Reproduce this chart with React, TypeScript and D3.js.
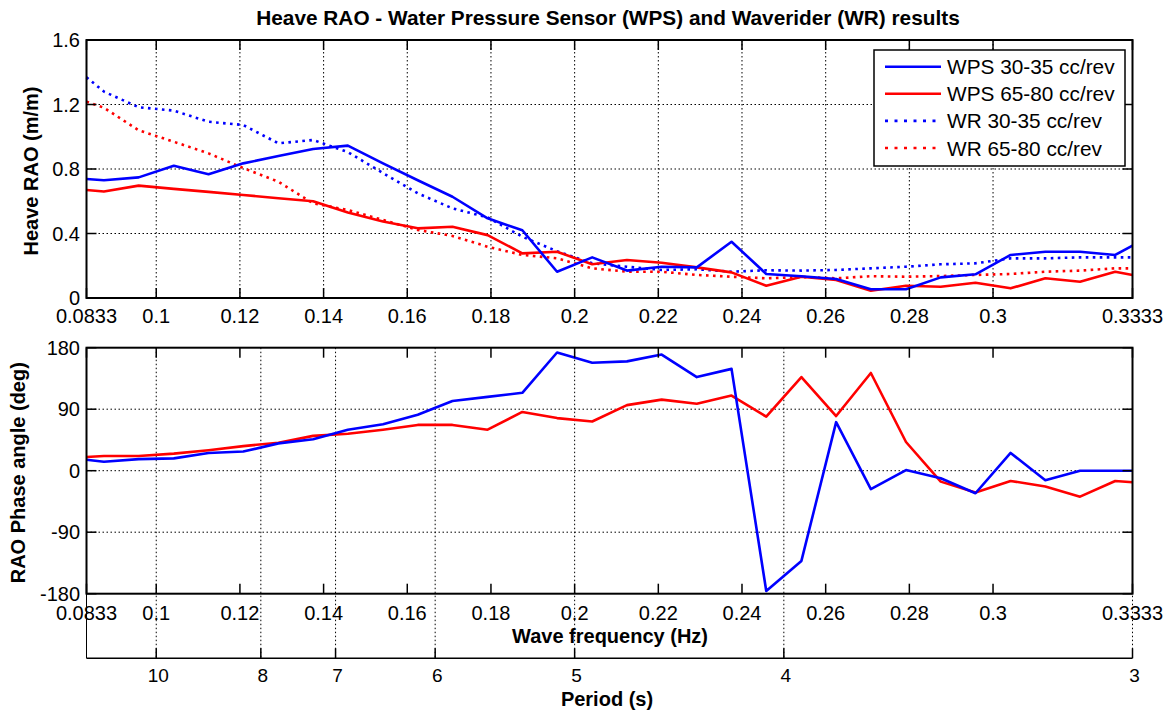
import React, { useEffect, useRef } from 'react';
import { select, scaleLinear, line, Selection } from 'd3';

// wave frequency (Hz) of every measured point
const freq = [
  0.083333, 0.0875, 0.0958, 0.1042, 0.1125, 0.1208, 0.1292, 0.1375, 0.1458, 0.1542, 0.1625,
  0.1708, 0.1792, 0.1875, 0.1958, 0.2042, 0.2125, 0.2208, 0.2292, 0.2375, 0.2458, 0.2542,
  0.2625, 0.2708, 0.2792, 0.2875, 0.2958, 0.3042, 0.3125, 0.3208, 0.3292, 0.333333,
];

// heave RAO (m/m)
const raoWps3035 = [
  0.738, 0.73, 0.748, 0.82, 0.767, 0.835, 0.88, 0.924, 0.945, 0.835, 0.73,
  0.628, 0.494, 0.42, 0.163, 0.252, 0.17, 0.194, 0.19, 0.349, 0.149, 0.135,
  0.118, 0.054, 0.054, 0.128, 0.147, 0.267, 0.287, 0.287, 0.267, 0.325,
];
const raoWps6580 = [
  0.67, 0.66, 0.697, 0.677, 0.658, 0.639, 0.619, 0.6, 0.53, 0.474, 0.432,
  0.442, 0.39, 0.277, 0.287, 0.209, 0.236, 0.219, 0.19, 0.159, 0.076, 0.132,
  0.112, 0.045, 0.076, 0.07, 0.095, 0.06, 0.122, 0.101, 0.163, 0.143,
];
const raoWr3035 = [
  1.369, 1.28, 1.183, 1.162, 1.093, 1.073, 0.959, 0.98, 0.905, 0.775, 0.649,
  0.556, 0.5, 0.38, 0.29, 0.215, 0.194, 0.174, 0.178, 0.163, 0.172, 0.17,
  0.174, 0.184, 0.194, 0.209, 0.215, 0.246, 0.246, 0.252, 0.252, 0.252,
];
const raoWr6580 = [
  1.217, 1.18, 1.04, 0.969, 0.897, 0.806, 0.721, 0.587, 0.546, 0.484, 0.422,
  0.385, 0.318, 0.267, 0.246, 0.184, 0.163, 0.163, 0.143, 0.132, 0.122, 0.13,
  0.122, 0.135, 0.132, 0.136, 0.143, 0.149, 0.163, 0.17, 0.184, 0.184,
];

// RAO phase angle (deg)
const phaseWps3035 = [
  16, 13, 17, 18, 26, 28, 40, 46, 60, 68, 82,
  102, 108, 114, 173, 158, 160, 170, 137, 149, -176, -132,
  71, -27, 1, -11, -33, 26, -14, 0, 0, 0,
];
const phaseWps6580 = [
  20, 21.5, 21.5, 25, 30, 36, 41, 51, 54, 60, 67,
  67, 60, 86, 77, 72, 96, 104, 98, 110, 79, 137,
  80, 143, 42, -16, -32, -15, -23, -38, -15, -17,
];

const freqTicks = [0.083333, 0.1, 0.12, 0.14, 0.16, 0.18, 0.2, 0.22, 0.24, 0.26, 0.28, 0.3, 0.333333];
const freqTickLabels = ['0.0833', '0.1', '0.12', '0.14', '0.16', '0.18', '0.2', '0.22', '0.24', '0.26', '0.28', '0.3', '0.3333'];
const raoTicks = [0, 0.4, 0.8, 1.2, 1.6];
const raoTickLabels = ['0', '0.4', '0.8', '1.2', '1.6'];
const phaseTicks = [-180, -90, 0, 90, 180];
const periodTicks = [10, 8, 7, 6, 5, 4, 3];

const seriesNames = ['WPS 30-35 cc/rev', 'WPS 65-80 cc/rev', 'WR 30-35 cc/rev', 'WR 65-80 cc/rev'];

const WIDTH = 1176;
const HEIGHT = 715;
const LEFT = 86.5;
const RIGHT = 1132.5;
const TOP_PANEL = { TOP: 40, BOTTOM: 298 };
const BOT_PANEL = { TOP: 347.7, BOTTOM: 593.7 };
const PERIOD_BOTTOM = 658.3;
const FONT = '"Liberation Sans", Arial, Helvetica, sans-serif';
const BLUE = '#0000ff';
const RED = '#ff0000';
const GRID_DASH = '1.5,2.5';
const DOT_DASH = '2.6,4.4';
const TICK = 10;
const TICK_FONT = 20;

type G = Selection<SVGGElement, unknown, null, undefined>;

function hLine(g: G, x1: number, x2: number, y: number, w: number, dash?: string): void {
  const l = g.append('line').attr('x1', x1).attr('x2', x2).attr('y1', y).attr('y2', y)
    .attr('stroke', '#000').attr('stroke-width', w);
  if (dash) l.attr('stroke-dasharray', dash);
}

function vLine(g: G, x: number, y1: number, y2: number, w: number, dash?: string): void {
  const l = g.append('line').attr('x1', x).attr('x2', x).attr('y1', y1).attr('y2', y2)
    .attr('stroke', '#000').attr('stroke-width', w);
  if (dash) l.attr('stroke-dasharray', dash);
}

function label(g: G, x: number, y: number, text: string, size: number, anchor = 'middle', bold = false): void {
  g.append('text').attr('x', x).attr('y', y).attr('text-anchor', anchor)
    .attr('font-family', FONT).attr('font-size', size)
    .attr('font-weight', bold ? 'bold' : 'normal').attr('fill', '#000').text(text);
}

export default function App(): JSX.Element {
  const svgRef = useRef<SVGSVGElement>(null);

  useEffect(() => {
    const svg = select(svgRef.current);
    svg.selectAll('*').remove();
    const g = svg.append('g') as unknown as G;

    const x = scaleLinear().domain([freqTicks[0], freqTicks[freqTicks.length - 1]]).range([LEFT, RIGHT]);
    const yRao = scaleLinear().domain([0, 1.6]).range([TOP_PANEL.BOTTOM, TOP_PANEL.TOP]);
    const yPhase = scaleLinear().domain([-180, 180]).range([BOT_PANEL.BOTTOM, BOT_PANEL.TOP]);

    // background
    g.append('rect').attr('width', WIDTH).attr('height', HEIGHT).attr('fill', '#fff');

    // title
    label(g, 608, 25, 'Heave RAO - Water Pressure Sensor (WPS) and Waverider (WR) results', 20.8, 'middle', true);

    // ---------- top panel ----------
    freqTicks.slice(1, -1).forEach((f) => vLine(g, x(f), TOP_PANEL.TOP, TOP_PANEL.BOTTOM, 1, GRID_DASH));
    raoTicks.slice(1, -1).forEach((v) => hLine(g, LEFT, RIGHT, yRao(v), 1, GRID_DASH));

    const raoLine = line<number>().x((_, i) => x(freq[i])).y((d) => yRao(d));
    const topSeries: Array<[number[], string, boolean]> = [
      [raoWr3035, BLUE, true],
      [raoWr6580, RED, true],
      [raoWps6580, RED, false],
      [raoWps3035, BLUE, false],
    ];
    topSeries.forEach(([data, color, dotted]) => {
      const p = g.append('path').attr('d', raoLine(data) as string).attr('fill', 'none')
        .attr('stroke', color).attr('stroke-width', 2.6).attr('stroke-linejoin', 'round');
      if (dotted) p.attr('stroke-dasharray', DOT_DASH);
    });

    g.append('rect').attr('x', LEFT).attr('y', TOP_PANEL.TOP).attr('width', RIGHT - LEFT)
      .attr('height', TOP_PANEL.BOTTOM - TOP_PANEL.TOP).attr('fill', 'none')
      .attr('stroke', '#000').attr('stroke-width', 2);
    freqTicks.forEach((f, i) => {
      vLine(g, x(f), TOP_PANEL.TOP, TOP_PANEL.TOP + TICK, 1.5);
      vLine(g, x(f), TOP_PANEL.BOTTOM - TICK, TOP_PANEL.BOTTOM, 1.5);
      label(g, x(f), 322.5, freqTickLabels[i], TICK_FONT);
    });
    raoTicks.forEach((v, i) => {
      hLine(g, LEFT, LEFT + TICK, yRao(v), 1.5);
      hLine(g, RIGHT - TICK, RIGHT, yRao(v), 1.5);
      label(g, 80, yRao(v) + 7, raoTickLabels[i], TICK_FONT, 'end');
    });
    g.append('text').attr('transform', `translate(38, ${(TOP_PANEL.TOP + TOP_PANEL.BOTTOM) / 2 + 2}) rotate(-90)`)
      .attr('text-anchor', 'middle').attr('font-family', FONT).attr('font-size', 20)
      .attr('font-weight', 'bold').text('Heave RAO (m/m)');

    // legend
    const lg = g.append('g').attr('transform', 'translate(874, 50)') as unknown as G;
    lg.append('rect').attr('width', 251).attr('height', 116).attr('fill', '#fff')
      .attr('stroke', '#000').attr('stroke-width', 1.5);
    const legendStyles: Array<[string, boolean]> = [[BLUE, false], [RED, false], [BLUE, true], [RED, true]];
    seriesNames.forEach((name, i) => {
      const yy = 16.7 + i * 27.1;
      const l = lg.append('line').attr('x1', 11).attr('x2', 67).attr('y1', yy).attr('y2', yy)
        .attr('stroke', legendStyles[i][0]).attr('stroke-width', 2.6);
      if (legendStyles[i][1]) l.attr('stroke-dasharray', '3,6.5');
      label(lg, 73, yy + 7.5, name, 20.8, 'start');
    });

    // ---------- bottom panel ----------
    phaseTicks.slice(1, -1).forEach((v) => hLine(g, LEFT, RIGHT, yPhase(v), 1, GRID_DASH));
    periodTicks.forEach((p) => vLine(g, x(1 / p), BOT_PANEL.TOP, PERIOD_BOTTOM, 1, GRID_DASH));

    const phaseLine = line<number>().x((_, i) => x(freq[i])).y((d) => yPhase(d));
    [[phaseWps6580, RED], [phaseWps3035, BLUE]].forEach(([data, color]) => {
      g.append('path').attr('d', phaseLine(data as number[]) as string).attr('fill', 'none')
        .attr('stroke', color as string).attr('stroke-width', 2.6).attr('stroke-linejoin', 'round');
    });

    g.append('rect').attr('x', LEFT).attr('y', BOT_PANEL.TOP).attr('width', RIGHT - LEFT)
      .attr('height', BOT_PANEL.BOTTOM - BOT_PANEL.TOP).attr('fill', 'none')
      .attr('stroke', '#000').attr('stroke-width', 2);
    freqTicks.forEach((f, i) => {
      vLine(g, x(f), BOT_PANEL.TOP, BOT_PANEL.TOP + TICK, 1.5);
      vLine(g, x(f), BOT_PANEL.BOTTOM - TICK, BOT_PANEL.BOTTOM, 1.5);
      label(g, x(f), 619.5, freqTickLabels[i], TICK_FONT);
    });
    phaseTicks.forEach((v) => {
      hLine(g, LEFT, LEFT + TICK, yPhase(v), 1.5);
      hLine(g, RIGHT - TICK, RIGHT, yPhase(v), 1.5);
      label(g, 80, yPhase(v) + 7, String(v), TICK_FONT, 'end');
    });
    g.append('text').attr('transform', `translate(25, ${(BOT_PANEL.TOP + BOT_PANEL.BOTTOM) / 2 + 2}) rotate(-90)`)
      .attr('text-anchor', 'middle').attr('font-family', FONT).attr('font-size', 20)
      .attr('font-weight', 'bold').text('RAO Phase angle (deg)');
    label(g, 610, 643, 'Wave frequency (Hz)', 20, 'middle', true);

    // ---------- period axis ----------
    vLine(g, LEFT, BOT_PANEL.BOTTOM, PERIOD_BOTTOM, 1);
    hLine(g, LEFT, RIGHT, PERIOD_BOTTOM, 1.5);
    periodTicks.forEach((p) => {
      vLine(g, x(1 / p), PERIOD_BOTTOM - TICK, PERIOD_BOTTOM, 1.5);
      label(g, x(1 / p) + 2, 682, String(p), 19);
    });
    label(g, 607, 706, 'Period (s)', 20, 'middle', true);
  }, []);

  return (
    <svg
      ref={svgRef}
      width={WIDTH}
      height={HEIGHT}
      style={{ position: 'absolute', left: 0, top: 0, display: 'block' }}
    />
  );
}
